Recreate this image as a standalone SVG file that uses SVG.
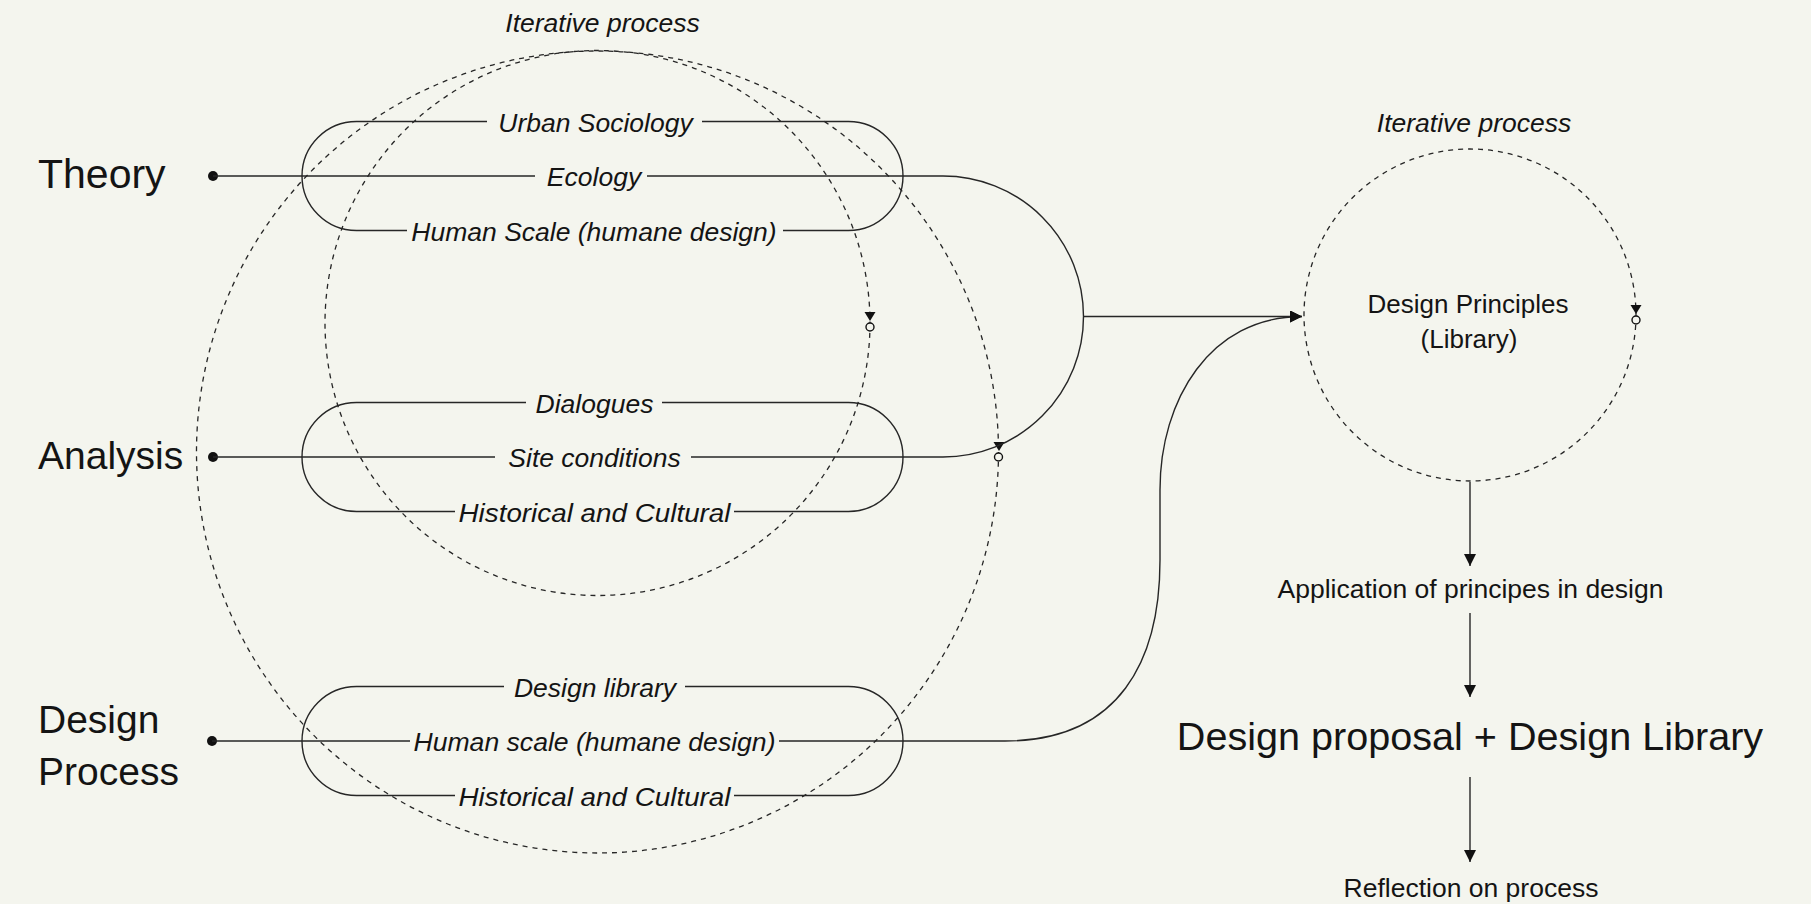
<svg xmlns="http://www.w3.org/2000/svg" width="1811" height="904" viewBox="0 0 1811 904">
  <defs>
    <style>
      .bg { fill: #f4f5ee; }
      .line { fill: none; stroke: #262626; stroke-width: 1.4; }
      .dash { fill: none; stroke: #262626; stroke-width: 1.3; stroke-dasharray: 5 5; }
      .dot { fill: #111; }
      .tri { fill: #111; }
      .ring { fill: #f4f5ee; stroke: #111; stroke-width: 1.4; }
      .big { font-family: "Liberation Sans", Arial, sans-serif; font-size: 39px; fill: #141414; }
      .lab { font-family: "Liberation Sans", Arial, sans-serif; font-size: 26.5px; fill: #141414; }
      .it { font-family: "Liberation Sans", Arial, sans-serif; font-size: 26.5px; font-style: italic; fill: #141414; text-anchor: middle; }
      .mid { text-anchor: middle; }
    </style>
    <marker id="arr" viewBox="0 0 12 12" refX="12" refY="6" markerWidth="12" markerHeight="12" markerUnits="userSpaceOnUse" orient="auto">
      <path d="M0 0 L12 6 L0 12 Z" fill="#111"/>
    </marker>
  </defs>

  <rect class="bg" x="0" y="0" width="1811" height="904"/>

  <!-- Left iterative process (two dashed circles) -->
  <g id="iterative-left">
    <text class="it" x="602.5" y="32">Iterative process</text>
    <circle class="dash" cx="597.5" cy="452" r="401"/>
    <circle class="dash" cx="597.5" cy="323" r="272.5"/>
    <path class="tri" d="M864.5 312 L875.5 312 L870 321 Z"/>
    <circle class="ring" cx="870" cy="327" r="4"/>
    <path class="tri" d="M993.5 442 L1004.5 442 L999 451 Z"/>
    <circle class="ring" cx="998.5" cy="457" r="4"/>
  </g>

  <!-- Theory -->
  <g id="node-theory">
    <text class="big" x="38" y="188" style="font-size:41px">Theory</text>
    <circle class="dot" cx="213" cy="176" r="5"/>
    <path class="line" d="M487 121.5 H356.5 A54.5 54.5 0 0 0 356.5 230.5 H407"/>
    <path class="line" d="M702 121.5 H848.5 A54.5 54.5 0 0 1 848.5 230.5 H783"/>
    <text class="it" x="595.5" y="131.5">Urban Sociology</text>
    <text class="it" x="594" y="186">Ecology</text>
    <text class="it" x="594" y="240.5">Human Scale (humane design)</text>
  </g>

  <!-- Analysis -->
  <g id="node-analysis">
    <text class="big" x="38" y="469">Analysis</text>
    <circle class="dot" cx="213" cy="457" r="5"/>
    <path class="line" d="M526 402.5 H356.5 A54.5 54.5 0 0 0 356.5 511.5 H455"/>
    <path class="line" d="M662 402.5 H848.5 A54.5 54.5 0 0 1 848.5 511.5 H734"/>
    <text class="it" x="594.5" y="412.5">Dialogues</text>
    <text class="it" x="594.5" y="467">Site conditions</text>
    <text class="it" x="594.5" y="521.5" textLength="272" lengthAdjust="spacingAndGlyphs">Historical and Cultural</text>
  </g>

  <!-- Design Process -->
  <g id="node-design-process">
    <text class="big" x="38" y="733">Design</text>
    <text class="big" x="38" y="785">Process</text>
    <circle class="dot" cx="212" cy="741" r="5"/>
    <path class="line" d="M504 686.5 H356.5 A54.5 54.5 0 0 0 356.5 795.5 H455"/>
    <path class="line" d="M685 686.5 H848.5 A54.5 54.5 0 0 1 848.5 795.5 H734"/>
    <text class="it" x="595" y="696.5">Design library</text>
    <text class="it" x="594.5" y="751" textLength="362" lengthAdjust="spacingAndGlyphs">Human scale (humane design)</text>
    <text class="it" x="594.5" y="805.5" textLength="272" lengthAdjust="spacingAndGlyphs">Historical and Cultural</text>
  </g>

  <!-- Design Principles -->
  <g id="node-design-principles">
    <text class="it" x="1474" y="132">Iterative process</text>
    <circle class="dash" cx="1470" cy="315" r="166"/>
    <text class="lab mid" x="1468" y="313" style="font-size:26px">Design Principles</text>
    <text class="lab mid" x="1469" y="348" style="font-size:26px">(Library)</text>
    <path class="tri" d="M1630.5 305 L1641.5 305 L1636 314 Z"/>
    <circle class="ring" cx="1636" cy="320" r="4"/>
  </g>

  <g id="node-application">
    <text class="lab mid" x="1470.5" y="598">Application of principes in design</text>
  </g>

  <g id="node-proposal">
    <text class="big mid" x="1470" y="750" style="font-size:39.6px">Design proposal + Design Library</text>
  </g>

  <g id="node-reflection">
    <text class="lab mid" x="1471" y="897">Reflection on process</text>
  </g>

  <!-- Connectors -->
  <g id="connectors">
    <path class="line" d="M213 176 H535"/>
    <path class="line" d="M647 176 H943 A140.5 140.5 0 0 1 943 457"/>
    <path class="line" d="M213 457 H495"/>
    <path class="line" d="M691 457 H943"/>
    <path class="line" d="M1083.5 316.5 H1302" marker-end="url(#arr)"/>
    <path class="line" d="M212 741 H410"/>
    <path class="line" d="M779 741 H1005 C1120 741 1160 660 1160 560 L1160 490 C1160 400 1210 316.5 1302 316.5" marker-end="url(#arr)"/>
    <path class="line" d="M1470 482 V566" marker-end="url(#arr)"/>
    <path class="line" d="M1470 613 V697" marker-end="url(#arr)"/>
    <path class="line" d="M1470 777 V862" marker-end="url(#arr)"/>
  </g>
</svg>
